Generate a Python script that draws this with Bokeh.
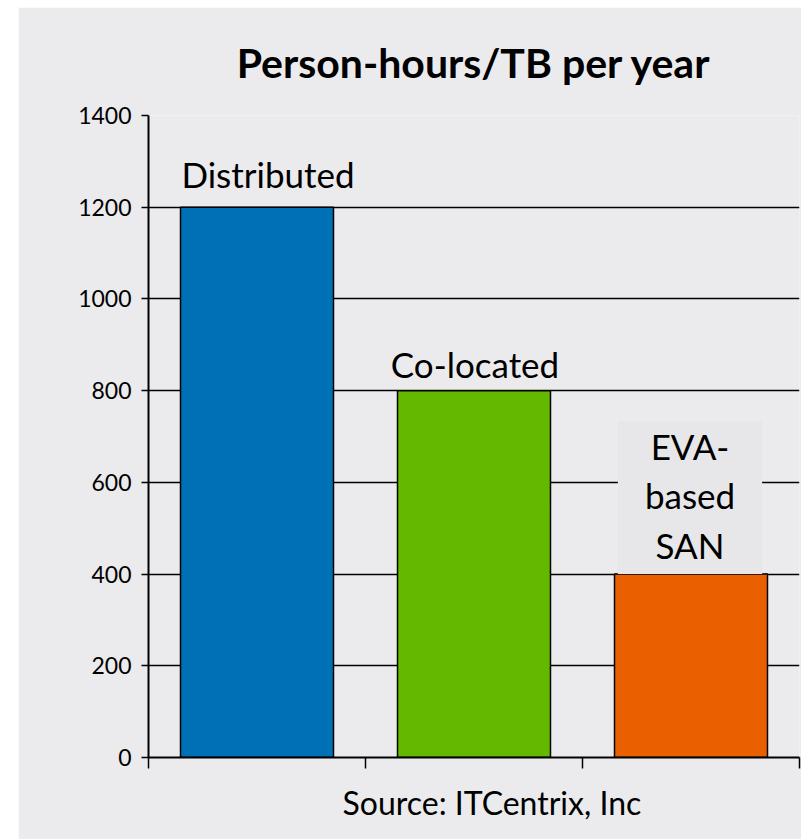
from bokeh.plotting import figure
from bokeh.models import (FactorRange, Range1d, LinearAxis, FixedTicker, Title,
                          ColumnDataSource, CDSView, IndexFilter, Spacer)
from bokeh.layouts import row, column
from bokeh.core.properties import value
from bokeh.embed import file_html
from bokeh.resources import INLINE

# ---- data ----
categories = ["Distributed", "Co-located", "EVA-based SAN"]
label_texts = ["Distributed", "Co-located", "EVA-\nbased\nSAN"]
hours_per_tb = [1200, 800, 400]
bar_colors = ["#0070b6", "#64b800", "#ea6000"]
y_ticks = [0, 200, 400, 600, 800, 1000, 1200, 1400]
title_text = "Person-hours/TB per year"
source_text = "Source: ITCentrix, Inc"

# ---- styles ----
BG = "#ebebed"
BOX = "#e7e7e9"
FONT = "Lato"
label_dx = [11, 1, -1]
label_dy = [-33, -27, 0]

src = ColumnDataSource(dict(cat=categories, val=hours_per_tb, color=bar_colors,
                            txt=label_texts, dx=label_dx, dy=label_dy))

p = figure(width=783, height=832, output_backend="svg", toolbar_location=None,
           x_range=FactorRange(factors=categories, range_padding=0),
           y_range=Range1d(y_ticks[0], y_ticks[-1]),
           x_axis_location=None,
           min_border_left=130, min_border_right=2, min_border_top=108, min_border_bottom=82)
p.background_fill_color = BG
p.border_fill_color = BG
p.outline_line_color = None

p.title.text = title_text
p.title.align = "center"
p.title.text_font = FONT
p.title.text_font_style = "bold"
p.title.text_font_size = "41px"
p.title.text_color = "#000000"
p.title.standoff = 57

# bars
p.vbar(x="cat", top="val", width=0.705, source=src, fill_color="color",
       line_color="#000000", line_width=1.5)

# labels
v1 = CDSView(filter=IndexFilter([0, 1]))
p.text(x="cat", y="val", text="txt", x_offset="dx", y_offset="dy", source=src, view=v1,
       text_font=value(FONT), text_font_size="35px", text_align="center",
       text_baseline="alphabetic", text_color="#000000")
v2 = CDSView(filter=IndexFilter([2]))
p.text(x="cat", y="val", text="txt", x_offset="dx", y_offset="dy", source=src, view=v2,
       text_font=value(FONT), text_font_size="35px", text_align="center",
       text_baseline="bottom", text_color="#000000", text_line_height=1.18,
       background_fill_color=BOX, padding=[27, 27, 4, 8])

# y axis + grid
ya = p.yaxis[0]
ya.ticker = FixedTicker(ticks=y_ticks)
ya.axis_line_color = "#000000"
ya.axis_line_width = 2
ya.major_tick_line_color = "#000000"
ya.major_tick_line_width = 1.5
ya.major_tick_out = 7
ya.major_tick_in = 0
ya.minor_tick_line_color = None
ya.major_label_standoff = 10
ya.major_label_text_font = FONT
ya.major_label_text_font_size = "23px"
ya.major_label_text_color = "#000000"

p.ygrid.ticker = FixedTicker(ticks=y_ticks)
p.ygrid.grid_line_color = "#000000"
p.ygrid.grid_line_width = 1.5
p.xgrid.grid_line_color = None

# bottom axis with ticks at category edges (synthetic coordinates 0..n)
edges = list(range(len(categories) + 1))
xa = LinearAxis(ticker=FixedTicker(ticks=edges))
xa.axis_line_color = "#000000"
xa.axis_line_width = 2
xa.major_tick_line_color = "#000000"
xa.major_tick_line_width = 1.5
xa.major_tick_out = 11
xa.major_tick_in = 0
xa.minor_tick_line_color = None
xa.major_label_overrides = {e: "" for e in edges}
xa.major_label_standoff = 0
p.add_layout(xa, "below")

src_title = Title(text=source_text, align="left", offset=194, text_font=FONT,
                  text_font_style="normal", text_font_size="32px", text_color="#000000",
                  standoff=25)
p.add_layout(src_title, "below")

layout = column(Spacer(width=801, height=7), row(Spacer(width=18, height=832), p))
open("out.html", "w").write(file_html(layout, INLINE))
